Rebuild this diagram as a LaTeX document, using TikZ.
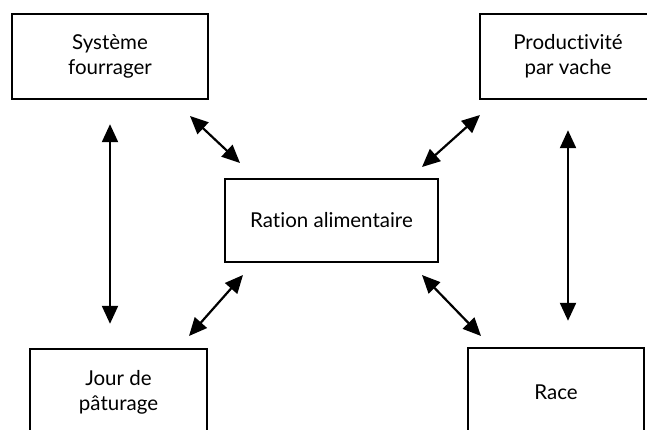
\documentclass[tikz,border=0pt]{standalone}
\usepackage{fontspec}
\setmainfont[Ligatures={NoCommon,NoRare,NoDiscretionary},Contextuals=NoAlternate]{Lato}
\usetikzlibrary{arrows.meta}
\begin{document}
\begin{tikzpicture}[x=1pt,y=-1pt,
  box/.style={draw, line width=2.4pt, inner sep=0pt, align=center,
    font=\fontsize{20.5}{25}\selectfont},
  link/.style={line width=2.2pt, {Triangle[length=18pt,width=16pt]}-{Triangle[length=18pt,width=16pt]}}]
\useasboundingbox (0,0) rectangle (647,430);
\begin{scope}
\clip (0,0) rectangle (647,430);
\node[box, minimum width=196pt, minimum height=85pt] (A) at (110,56.5) {Système\\fourrager};
\node[box, minimum width=176pt, minimum height=85pt] (B) at (568,56.5) {Productivité\\par vache};
\node[box, minimum width=213pt, minimum height=83pt] (C) at (331.5,220.5) {Ration alimentaire};
\node[box, minimum width=177pt, minimum height=86pt] (D) at (118.5,392) {Jour de\\pâturage};
\node[box, minimum width=176pt, minimum height=88pt] (E) at (556,392) {Race};
\end{scope}
\draw[link, shorten <=24pt, shorten >=24pt] (A.south) -- (A.south |- D.north);
\draw[link, shorten <=30pt, shorten >=26pt] (B.south) -- (B.south |- E.north);
\coordinate (ac) at (190,116);
\coordinate (ca) at (240,163);
\coordinate (bc) at (480,115);
\coordinate (cb) at (422,167);
\coordinate (dc) at (189,336);
\coordinate (cd) at (243,275);
\coordinate (ec) at (481,336);
\coordinate (ce) at (422,275);
\draw[link] (ac) -- (ca);
\draw[link] (bc) -- (cb);
\draw[link] (dc) -- (cd);
\draw[link] (ec) -- (ce);
\end{tikzpicture}
\end{document}
